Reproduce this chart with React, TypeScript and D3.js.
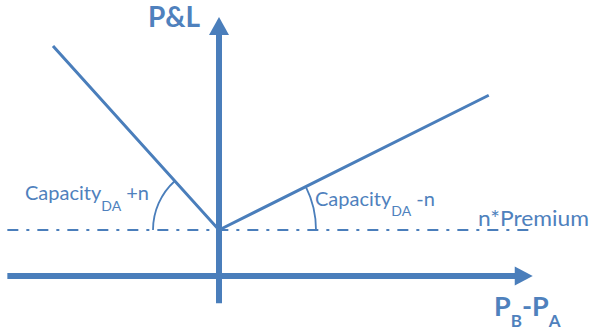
import React from "react";
import * as d3 from "d3";

// Payoff profile (x = P_B - P_A, y = P&L, premium level = 1)
const payoffX = [-4, 0, 6.5];
const payoffY = [5, 1, 3.93];
const premiumLevel = 1;
const xAxisExtent = [-5.1, 7.56];
const yAxisExtent = [-0.59, 5.63];
const labels = {
  yAxis: "P&L",
  leftCap: "Capacity",
  sub: "DA",
  leftSuffix: " +n",
  rightSuffix: " -n",
  premium: "n*Premium",
};

const W = 592;
const H = 332;
const LINE = "#4a7ebb";
const TEXT = "#4f81bd";
const FONT = "Lato, 'Open Sans', sans-serif";

export default function App() {
  const x = d3.scaleLinear().domain([0, 1]).range([219, 260.5]);
  const y = d3.scaleLinear().domain([0, 1]).range([276, 230]);

  const pts: [number, number][] = payoffX.map((v, i) => [x(v), y(payoffY[i])]);
  const line = d3.line<[number, number]>()(pts) || "";

  const vx = x(0);
  const vy = y(premiumLevel);

  const leftAng = Math.atan2(pts[0][1] - vy, pts[0][0] - vx);
  const rightAng = Math.atan2(pts[2][1] - vy, pts[2][0] - vx);
  const pL = d3.path();
  pL.arc(vx, vy, 66, Math.PI, leftAng + 2 * Math.PI, false);
  const pR = d3.path();
  pR.arc(vx, vy, 97, 0, rightAng, true);

  const xa0 = x(xAxisExtent[0]);
  const xa1 = x(xAxisExtent[1]);
  const ya0 = y(yAxisExtent[0]);
  const ya1 = y(yAxisExtent[1]);
  const y0 = y(0);

  return (
    <svg width={W} height={H} style={{ position: "absolute", left: 0, top: 0 }}>
      <rect width={W} height={H} fill="#fff" />
      {/* premium dash-dot line */}
      <line x1={xa0} x2={530} y1={vy} y2={vy} stroke={LINE} strokeWidth={2} strokeDasharray="11 8 3 8" />
      {/* x axis */}
      <line x1={xa0} x2={xa1 - 17} y1={y0} y2={y0} stroke={LINE} strokeWidth={6} />
      <polygon points={`${xa1},${y0} ${xa1 - 18},${y0 - 9.5} ${xa1 - 18},${y0 + 9.5}`} fill={LINE} />
      {/* y axis */}
      <line x1={vx} x2={vx} y1={ya0} y2={ya1 + 17} stroke={LINE} strokeWidth={6} />
      <polygon points={`${vx},${ya1} ${vx - 10},${ya1 + 18} ${vx + 10},${ya1 + 18}`} fill={LINE} />
      {/* payoff */}
      <path d={line} fill="none" stroke={LINE} strokeWidth={3} />
      {/* angle arcs */}
      <path d={pL.toString()} fill="none" stroke={LINE} strokeWidth={1.8} />
      <path d={pR.toString()} fill="none" stroke={LINE} strokeWidth={1.8} />

      {/* texts */}
      <text x={148} y={27} fill={TEXT} fontFamily={FONT} fontWeight="bold" fontSize={28}>{labels.yAxis}</text>
      <text x={25} y={200} fill={TEXT} fontFamily={FONT} fontSize={20}>
        {labels.leftCap}
        <tspan fontSize={14} dy={11}>{labels.sub}</tspan>
        <tspan dy={-11}>{labels.leftSuffix}</tspan>
      </text>
      <text x={315} y={206} fill={TEXT} fontFamily={FONT} fontSize={20}>
        {labels.leftCap}
        <tspan fontSize={14} dy={10}>{labels.sub}</tspan>
        <tspan dy={-10}>{labels.rightSuffix}</tspan>
      </text>
      <text x={478} y={226} fill={TEXT} fontFamily={FONT} fontSize={21} textLength={111} lengthAdjust="spacingAndGlyphs">{labels.premium}</text>
      <text x={494} y={316} fill={TEXT} fontFamily={FONT} fontWeight="bold" fontSize={27}>
        P<tspan fontSize={17} dy={11}>B</tspan><tspan dy={-11}>-P</tspan><tspan fontSize={17} dy={11}>A</tspan>
      </text>
    </svg>
  );
}
